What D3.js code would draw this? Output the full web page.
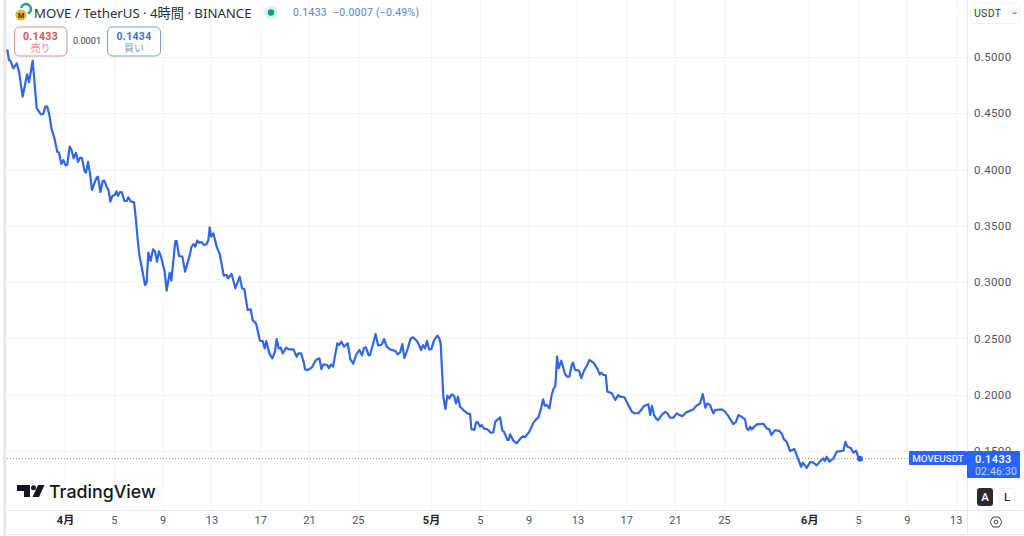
<!DOCTYPE html>
<html><head><meta charset="utf-8">
<script src="https://cdn.jsdelivr.net/npm/d3@7"></script>
<style>
html,body{margin:0;padding:0;background:#fff;overflow:hidden}
svg{display:block}
text{font-family:Roboto,"Noto Sans CJK JP",sans-serif}
</style></head><body><svg id="c" width="1024" height="536"></svg>
<script>
// days counted from 1 April; prices in USDT
const days=[-4.73,-4.59,-4.45,-4.24,-3.96,-3.77,-3.47,-3.11,-2.95,-2.65,-2.49,-2.32,-1.97,-1.78,-1.61,-1.45,-1.28,-1.09,-0.90,-0.63,-0.49,-0.30,-0.14,0.05,0.19,0.38,0.52,0.71,0.90,1.07,1.23,1.39,1.61,1.72,1.89,2.05,2.21,2.60,2.70,2.90,3.09,3.22,3.47,3.55,3.72,3.88,4.10,4.21,4.34,4.51,4.67,4.86,5.05,5.19,5.38,5.66,5.79,5.96,6.09,6.28,6.56,6.69,6.83,7.02,7.21,7.38,7.54,7.70,7.87,8.17,8.33,8.58,8.72,9.04,9.15,9.34,9.62,9.84,10.19,10.38,10.55,10.68,10.85,11.01,11.18,11.39,11.61,11.75,11.86,11.99,12.16,12.43,12.70,13.01,13.25,13.36,13.66,13.96,14.32,14.51,14.70,
14.97,15.22,15.38,15.66,15.98,16.20,16.37,16.50,16.75,17.00,17.21,17.35,17.51,17.68,17.84,18.12,18.39,18.72,18.99,19.13,19.35,19.59,19.67,19.89,20.22,20.57,20.85,21.01,21.18,21.45,21.64,21.80,21.97,22.32,22.46,22.65,22.87,23.17,23.39,23.63,23.85,24.13,24.34,24.51,24.67,24.89,25.00,25.46,25.66,25.87,25.98,26.15,26.37,26.64,26.91,27.10,27.27,27.46,27.65,27.81,28.06,28.33,28.52,28.83,28.99,29.18,29.34,29.51,29.67,29.84,30.03,30.25,30.52,30.68,30.79,31.01,31.18,31.34,31.50,31.69,31.89,32.05,32.21,32.38,32.71,32.98,33.14,
33.20,33.31,33.55,33.69,33.82,34.02,34.15,34.34,34.62,34.92,35.11,35.27,35.66,35.85,35.98,36.26,36.37,36.48,36.75,37.02,37.35,37.51,37.70,38.06,38.39,38.61,38.80,39.02,39.18,39.32,39.48,39.70,39.89,40.03,40.19,40.33,40.46,40.68,40.98,41.17,41.34,41.53,41.64,41.80,42.13,42.32,42.54,42.76,42.98,43.31,43.66,43.83,43.96,44.13,44.32,44.45,44.81,45.11,45.35,45.49,45.85,46.17,46.45,46.67,46.99,47.27,47.46,47.81,47.87,47.95,48.11,48.28,48.50,48.63,48.91,49.18,49.37,49.59,
49.86,50.14,50.41,50.63,50.90,51.23,51.50,51.72,52.05,52.27,52.49,52.65,52.87,53.14,53.28,53.82,54.10,54.37,54.78,55.00,55.19,55.46,55.74,55.87,56.01,56.15,56.28,56.69,57.24,57.51,57.73,57.90,58.20,58.55,58.74,58.93,59.15,59.43,59.78,59.97,60.33,60.46,60.79,61.07,61.34,61.61,61.88,62.16,62.29,62.43,62.65,62.98,63.25,63.80,63.96,64.13,64.40,64.62,64.84,65.03,65.16];
const prices=[.5068,.4973,.4964,.4899,.4944,.4870,.4648,.4846,.4775,.4967,.4766,.4544,.4491,.4494,.4559,.4559,.4485,.4352,.4293,.4159,.4150,.4050,.4085,.4038,.4044,.4204,.4180,.4100,.4150,.4070,.4106,.4103,.3982,.3973,.4070,.3967,.3819,.3931,.3937,.3801,.3899,.3902,.3834,.3825,.3715,.3766,.3777,.3807,.3766,.3801,.3798,.3721,.3721,.3754,.3718,.3709,.3582,.3375,.3242,.3138,.2975,.2996,.3262,.3188,.3292,.3274,.3182,.3274,.3227,.3094,.2925,.3085,.3014,.3366,.3366,.3233,.3227,.3094,.3227,.3316,.3339,.3316,.3369,.3351,.3357,.3330,.3339,.3375,.3487,.3404,.3434,.3316,.3242,.3058,.3064,.3034,.3073,.2946,.3049,.2946,.2937,
.2753,.2759,.2664,.2634,.2480,.2477,.2412,.2477,.2368,.2324,.2383,.2495,.2412,.2418,.2368,.2418,.2403,.2403,.2338,.2368,.2368,.2279,.2226,.2220,.2241,.2309,.2324,.2229,.2270,.2267,.2238,.2270,.2250,.2457,.2442,.2472,.2427,.2457,.2315,.2276,.2353,.2398,.2350,.2418,.2421,.2350,.2353,.2540,.2439,.2442,.2451,.2495,.2427,.2403,.2395,.2389,.2359,.2374,.2451,.2326,.2398,.2501,.2510,.2480,.2451,.2398,.2442,.2412,.2480,.2403,.2406,.2486,.2525,.2501,.2457,.1983,.1874,.1992,.1968,.2004,.1992,.1924,.1983,.1894,.1859,.1835,.1829,
.1830,.1694,.1688,.1753,.1759,.1717,.1732,.1700,.1694,.1661,.1667,.1762,.1800,.1682,.1673,.1599,.1599,.1649,.1593,.1569,.1614,.1631,.1623,.1673,.1753,.1782,.1800,.1880,.1960,.1904,.1910,.1880,.1999,.2049,.2078,.2339,.2235,.2303,.2185,.2161,.2161,.2265,.2286,.2221,.2215,.2147,.2215,.2256,.2309,.2286,.2226,.2179,.2197,.2176,.2176,.2028,.2013,.1954,.1999,.1984,.1978,.1910,.1851,.1836,.1836,.1871,.1901,.1916,.1886,.1821,.1901,.1821,.1782,.1777,.1821,.1848,.1836,.1797,
.1796,.1835,.1817,.1811,.1844,.1859,.1870,.1900,.1924,.2007,.1885,.1924,.1909,.1835,.1865,.1870,.1850,.1811,.1740,.1761,.1820,.1805,.1782,.1702,.1687,.1717,.1693,.1737,.1743,.1702,.1693,.1643,.1687,.1678,.1657,.1604,.1583,.1500,.1518,.1465,.1361,.1397,.1350,.1403,.1397,.1373,.1409,.1435,.1412,.1450,.1406,.1435,.1495,.1503,.1583,.1539,.1527,.1486,.1503,.1444,.1433];
const xTickDays=[0,4,8,12,16,20,24,30,34,38,42,46,50,54,61,65,69,73];
const xTickLabels=["4月","5","9","13","17","21","25","5月","5","9","13","17","21","25","6月","5","9","13"];
const yTicks=[0.5,0.45,0.4,0.35,0.3,0.25,0.2,0.15];
const lastPrice=0.1433;

const W=1024,H=536,plotR=967,plotB=510,plotL=7;
const x=d3.scaleLinear().domain([-5.328,73.93]).range([0,plotR]);
const y=d3.scaleLinear().domain([0.5,0.15]).range([57,451.1]);
const svg=d3.select("#c");

svg.append("rect").attr("width",W).attr("height",H).attr("fill","#fff");
svg.append("rect").attr("x",3).attr("y",0).attr("width",3.5).attr("height",H).attr("fill","#e9e9e9");

// grid
const grid=svg.append("g").attr("stroke","#f3f4f6").attr("stroke-width",1);
grid.selectAll("line.v").data(xTickDays).join("line").attr("x1",d=>Math.round(x(d))+.5).attr("x2",d=>Math.round(x(d))+.5).attr("y1",0).attr("y2",plotB);
grid.selectAll("line.h").data(yTicks).join("line").attr("x1",plotL).attr("x2",plotR).attr("y1",d=>Math.round(y(d))+.5).attr("y2",d=>Math.round(y(d))+.5);

// frame
const fr=svg.append("g").attr("stroke","#e6e7ea").attr("stroke-width",1);
fr.append("line").attr("x1",plotL).attr("x2",W).attr("y1",510.5).attr("y2",510.5);
fr.append("line").attr("x1",plotL).attr("x2",W).attr("y1",534.5).attr("y2",534.5);
fr.append("line").attr("x1",967.5).attr("x2",967.5).attr("y1",0).attr("y2",534);

// x axis
const xAxis=d3.axisBottom(x).tickValues(xTickDays).tickSize(0).tickPadding(0).tickFormat((d,i)=>xTickLabels[i]);
const gx=svg.append("g").attr("transform","translate(0,516)").call(xAxis);
gx.select(".domain").remove();
gx.selectAll("text").attr("dy","0.71em").attr("fill",(d,i)=>xTickLabels[i].includes("月")?"#222":"#50535e")
  .attr("font-weight",(d,i)=>xTickLabels[i].includes("月")?700:400).attr("font-size",11)
  .style("font-family",'Roboto,"Noto Sans CJK JP",sans-serif');

// y axis
const yAxis=d3.axisRight(y).tickValues(yTicks).tickSize(0).tickPadding(0).tickFormat(d3.format(".4f"));
const gy=svg.append("g").attr("transform","translate(974,0)").call(yAxis);
gy.select(".domain").remove();
gy.selectAll("text").attr("fill","#50535e").attr("font-size",11.5).attr("letter-spacing",.35)
  .style("font-family",'Roboto,sans-serif');

// last price dotted line
svg.append("line").attr("x1",plotL).attr("x2",plotR).attr("y1",y(lastPrice)).attr("y2",y(lastPrice))
  .attr("stroke","#8f939c").attr("stroke-width",1).attr("stroke-dasharray","1 2");

// price line
const line=d3.line().x((d,i)=>x(days[i])).y(d=>y(d));
svg.append("path").datum(prices).attr("d",line).attr("fill","none").attr("stroke","#3266e3")
  .attr("stroke-width",2.2).attr("stroke-linejoin","round");
svg.append("circle").attr("cx",x(days[days.length-1])).attr("cy",y(lastPrice)).attr("r",3).attr("fill","#2f63dd");

// header
const T=(s,px,py,size,fill,anchor,weight)=>svg.append("text").text(s).attr("x",px).attr("y",py).attr("font-size",size).attr("fill",fill).attr("text-anchor",anchor||"start").attr("font-weight",weight||400);
T("MOVE / TetherUS · 4時間 · BINANCE",34,18,13.2,"#2a2e39").style("font-family",'"Noto Sans",Roboto,"Noto Sans CJK JP",sans-serif');
svg.append("path").attr("d","M21 8 a5 5 0 1 1 7 5.5").attr("fill","none").attr("stroke","#2a9d8f").attr("stroke-width",2.4);
svg.append("circle").attr("cx",21).attr("cy",15).attr("r",5.6).attr("fill","#e9b83a");
T("M",21,17.5,7,"#3a2a10","middle",700);
svg.append("circle").attr("cx",271).attr("cy",12.5).attr("r",7).attr("fill","#d9f2ec");
svg.append("circle").attr("cx",271).attr("cy",12.5).attr("r",3.2).attr("fill","#129a84");
T("0.1433",293,16,10.5,"#5b84cf").attr("letter-spacing",.3);
T("−0.0007 (−0.49%)",333,16,10.5,"#5b84cf").attr("letter-spacing",.25);

// sell / buy boxes
const box=(bx,w,stroke)=>svg.append("rect").attr("x",bx).attr("y",27).attr("width",w).attr("height",29).attr("rx",5).attr("fill","#fff").attr("stroke",stroke);
box(14.5,52.5,"#dc8f94");box(107.5,53,"#7f9ad0");
T("0.1433",40.5,40,10.5,"#d0545f","middle",700).attr("letter-spacing",.3);
T("売り",40.5,52,10,"#e08a8f","middle");
T("0.0001",87,44,9.2,"#3a3d46","middle");
T("0.1434",134,40,10.5,"#4a6fc4","middle",700).attr("letter-spacing",.3);
T("買い",134,52,10,"#7d9ad6","middle");

// currency dropdown
svg.append("rect").attr("x",970.5).attr("y",3.5).attr("width",49).attr("height",20).attr("rx",3).attr("fill","#fff").attr("stroke","#f0f1f3");
T("USDT",974,17,10.5,"#3b3e48").attr("letter-spacing",.3);
svg.append("path").attr("d","M1012.5 12 l2 2 l2 -2").attr("fill","none").attr("stroke","#444").attr("stroke-width",1);

// price tags
svg.append("rect").attr("x",909).attr("y",451).attr("width",58).attr("height",14).attr("rx",1).attr("fill","#2962ff");
T("MOVEUSDT",938,462,9.8,"#e6edff","middle",500);
svg.append("rect").attr("x",967).attr("y",451).attr("width",53).attr("height",27).attr("rx",1).attr("fill","#2962ff");
T("0.1433",975,462.5,11,"#fff","start",500).attr("letter-spacing",.4);
T("02:46:30",975,475,10.5,"#c6d6ff").attr("letter-spacing",.2);

// A / L buttons
svg.append("rect").attr("x",977).attr("y",488).attr("width",16).attr("height",18).attr("rx",3).attr("fill","#2a2a2e");
T("A",985,501,11.5,"#fff","middle",500);
svg.append("rect").attr("x",999.5).attr("y",488.5).attr("width",15).attr("height",17).attr("rx",3).attr("fill","#fff").attr("stroke","#f1f2f4");
T("L",1007,501,11.5,"#333","middle",500);

// settings icon
svg.append("path").attr("d","M990 522 L993 517 L999 517 L1002 522 L999 527 L993 527 Z").attr("fill","none").attr("stroke","#444").attr("stroke-width",1);
svg.append("circle").attr("cx",996).attr("cy",522).attr("r",1.8).attr("fill","none").attr("stroke","#444").attr("stroke-width",1);

// TradingView logo
svg.append("path").attr("d","M17 485 H30 V497 H24 V491 H17 Z").attr("fill","#131722");
svg.append("circle").attr("cx",33.5).attr("cy",487.7).attr("r",2.5).attr("fill","#131722");
svg.append("path").attr("d","M38 485 H44.5 L39 497 H32.5 Z").attr("fill","#131722");
T("TradingView",49,498,17.8,"#131722","start",500).style("font-family","Inter,Roboto,sans-serif");
</script></body></html>
